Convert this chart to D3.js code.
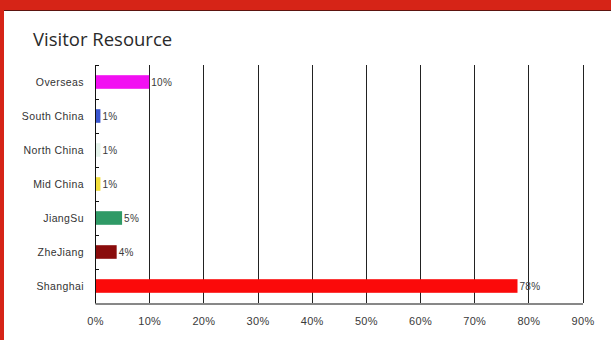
<!DOCTYPE html>
<html>
<head>
<meta charset="utf-8">
<script src="https://cdn.jsdelivr.net/npm/d3@7"></script>
<style>
  html, body { margin: 0; padding: 0; background: #fff; }
  svg { display: block; }
</style>
</head>
<body>
<svg id="chart" width="611" height="340"></svg>
<script>
// Visitor source breakdown, percent of all visitors
const categories = ["Overseas", "South China", "North China", "Mid China", "JiangSu", "ZheJiang", "Shanghai"];
const values = [10, 1, 1, 1, 5, 4, 78];
const barColors = ["#f20ff2", "#3a56d0", "#e4f2ea", "#f2de3a", "#2f9a66", "#8a0c0c", "#fb0a0a"];
const xTicks = [0, 10, 20, 30, 40, 50, 60, 70, 80, 90];
const title = "Visitor Resource";

const W = 611, H = 340;
const svg = d3.select("#chart");
const margin = { left: 95, right: 28.5, top: 65, bottom: 37 };
const labelFont = "'Liberation Sans', Arial, sans-serif";

// frame: red band across the top and along the left edge
svg.append("rect").attr("x", 0).attr("y", 0).attr("width", W).attr("height", H).attr("fill", "#fff");
svg.append("rect").attr("x", 0).attr("y", 0).attr("width", W).attr("height", 10).attr("fill", "#d62417");
svg.append("rect").attr("x", 0).attr("y", 0).attr("width", 4).attr("height", H).attr("fill", "#d62417");
svg.append("line").attr("x1", 4).attr("x2", W).attr("y1", 10.5).attr("y2", 10.5)
  .attr("stroke", "#5c1410").attr("stroke-width", 1);

svg.append("text").attr("x", 33).attr("y", 46)
  .attr("font-family", "'Open Sans', sans-serif").attr("font-size", 18.5)
  .attr("fill", "#2a2a2a").text(title);

const x = d3.scaleLinear().domain([0, 90]).range([margin.left, W - margin.right]);
const y = d3.scaleBand().domain(categories).range([margin.top, H - margin.bottom]).paddingInner(0.6).paddingOuter(0.3);
const yOuter = d3.scaleBand().domain(categories).range([margin.top, H - margin.bottom]);

// vertical grid lines at each tick (right one closes the box)
svg.append("g").selectAll("line").data(xTicks.slice(1)).join("line")
  .attr("x1", d => Math.round(x(d)) + 0.5).attr("x2", d => Math.round(x(d)) + 0.5)
  .attr("y1", margin.top).attr("y2", H - margin.bottom)
  .attr("stroke", "#222").attr("stroke-width", 1);

// bars
svg.append("g").selectAll("rect").data(categories).join("rect")
  .attr("x", x(0) + 1)
  .attr("y", d => y(d))
  .attr("width", (d, i) => x(values[i]) - x(0) - 1)
  .attr("height", y.bandwidth())
  .attr("fill", (d, i) => barColors[i]);

// value labels
svg.append("g").selectAll("text").data(categories).join("text")
  .attr("x", (d, i) => x(values[i]) + 2)
  .attr("y", d => y(d) + y.bandwidth() / 2)
  .attr("dy", "0.35em")
  .attr("font-family", labelFont).attr("font-size", 10).attr("letter-spacing", 0.3)
  .attr("fill", "#3a3a3a")
  .text((d, i) => values[i] + "%");

// left axis with short inward ticks at category boundaries
const left = svg.append("g");
left.append("line").attr("x1", x(0) + 0.5).attr("x2", x(0) + 0.5)
  .attr("y1", margin.top).attr("y2", H - margin.bottom + 0.5).attr("stroke", "#111");
const boundaries = categories.map(c => yOuter(c));
left.selectAll("line.tk").data(boundaries).join("line").attr("class", "tk")
  .attr("x1", x(0)).attr("x2", x(0) + 4)
  .attr("y1", d => Math.round(d) + 0.5).attr("y2", d => Math.round(d) + 0.5)
  .attr("stroke", "#111");
left.selectAll("text").data(categories).join("text")
  .attr("x", 84).attr("y", d => yOuter(d) + yOuter.bandwidth() / 2)
  .attr("dy", "0.35em").attr("text-anchor", "end")
  .attr("font-family", labelFont).attr("font-size", 10.5).attr("letter-spacing", 0.4)
  .attr("fill", "#333").text(d => d);

// bottom axis
const xAxis = d3.axisBottom(x).tickValues(xTicks).tickFormat(d => d + "%").tickSize(0).tickPadding(14);
const gx = svg.append("g").attr("transform", `translate(0,${H - margin.bottom + 0.5})`).call(xAxis);
gx.select(".domain").attr("stroke", "#111");
gx.selectAll("text").attr("font-family", labelFont)
  .attr("font-size", 11).attr("letter-spacing", 0.3).attr("fill", "#3a3a3a");
</script>
</body>
</html>
